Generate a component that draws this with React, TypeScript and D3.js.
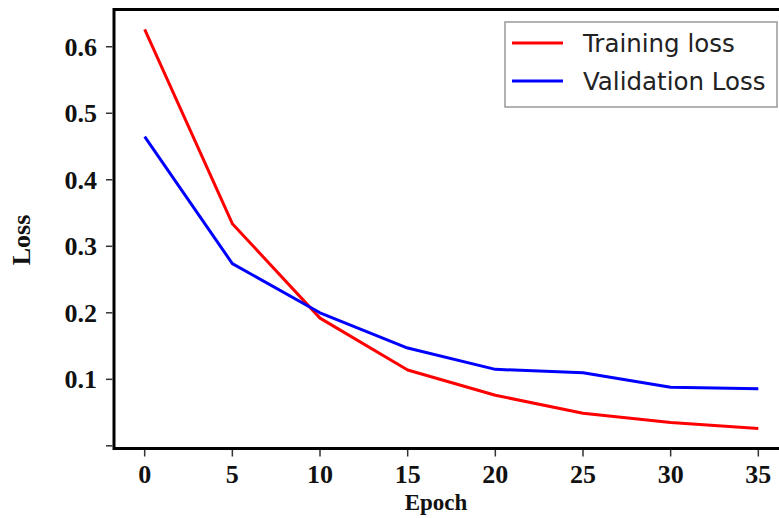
import React from "react";
import * as d3 from "d3";

const epochs = [0, 5, 10, 15, 20, 25, 30, 35];
const trainingLoss = [0.626, 0.334, 0.192, 0.114, 0.076, 0.049, 0.035, 0.026];
const validationLoss = [0.465, 0.274, 0.2, 0.147, 0.115, 0.11, 0.088, 0.086];

const xTicks = [0, 5, 10, 15, 20, 25, 30, 35];
const xTickLabels = ["0", "5", "10", "15", "20", "25", "30", "35"];
const yTicks = [0, 0.1, 0.2, 0.3, 0.4, 0.5, 0.6];
const yTickLabels = ["", "0.1", "0.2", "0.3", "0.4", "0.5", "0.6"];

const series = [
  { name: "Training loss", values: trainingLoss, colour: "#ff0000" },
  { name: "Validation Loss", values: validationLoss, colour: "#0000ff" },
];

const width = 779;
const height = 518;
const frame = { left: 114, top: 9.5, right: 789, bottom: 448.5 };
const serif = "'Liberation Serif', 'Times New Roman', serif";
const sans = "'DejaVu Sans', sans-serif";

export default function App() {
  const x = d3.scaleLinear().domain([-1.75, 36.75]).range([frame.left, frame.right]);
  const y = d3.scaleLinear().domain([-0.004, 0.656]).range([frame.bottom, frame.top]);

  const line = d3
    .line<number>()
    .x((_, i) => x(epochs[i]))
    .y((d) => y(d));

  return (
    <svg
      width={width}
      height={height}
      style={{ position: "absolute", left: 0, top: 0, background: "#fff" }}
    >
      <rect x={0} y={0} width={width} height={height} fill="#fff" />

      {series.map((s) => (
        <path
          key={s.name}
          d={line(s.values) || ""}
          fill="none"
          stroke={s.colour}
          strokeWidth={3}
          strokeLinejoin="round"
        />
      ))}

      <rect
        x={frame.left}
        y={frame.top}
        width={frame.right - frame.left}
        height={frame.bottom - frame.top}
        fill="none"
        stroke="#000"
        strokeWidth={3}
      />

      {xTicks.map((t, i) => (
        <g key={"x" + t} transform={`translate(${x(t)},${frame.bottom})`}>
          <line y1={1.5} y2={8} stroke="#333" strokeWidth={1.5} />
          <text
            y={34}
            textAnchor="middle"
            fontFamily={serif}
            fontWeight="bold"
            fontSize={26}
            fill="#111"
          >
            {xTickLabels[i]}
          </text>
        </g>
      ))}

      {yTicks.map((t, i) => (
        <g key={"y" + t} transform={`translate(${frame.left},${y(t)})`}>
          <line x1={-1.5} x2={-8} stroke="#333" strokeWidth={1.5} />
          <text
            x={-17}
            dy="0.35em"
            textAnchor="end"
            fontFamily={serif}
            fontWeight="bold"
            fontSize={26}
            fill="#111"
          >
            {yTickLabels[i]}
          </text>
        </g>
      ))}

      <text
        x={436}
        y={510}
        textAnchor="middle"
        fontFamily={serif}
        fontWeight="bold"
        fontSize={23}
        fill="#111"
      >
        Epoch
      </text>
      <text
        transform="translate(30,240) rotate(-90)"
        textAnchor="middle"
        fontFamily={serif}
        fontWeight="bold"
        fontSize={26}
        fill="#111"
      >
        Loss
      </text>

      <g>
        <rect
          x={505}
          y={22}
          width={272}
          height={85}
          fill="#fff"
          stroke="#999"
          strokeWidth={1.5}
        />
        {series.map((s, i) => (
          <g key={"lg" + s.name} transform={`translate(512,${43 + i * 38})`}>
            <line x1={0} x2={51} stroke={s.colour} strokeWidth={3} />
            <text
              x={71}
              dy="0.36em"
              fontFamily={sans}
              fontSize={24.5}
              fill="#222"
            >
              {s.name}
            </text>
          </g>
        ))}
      </g>
    </svg>
  );
}
